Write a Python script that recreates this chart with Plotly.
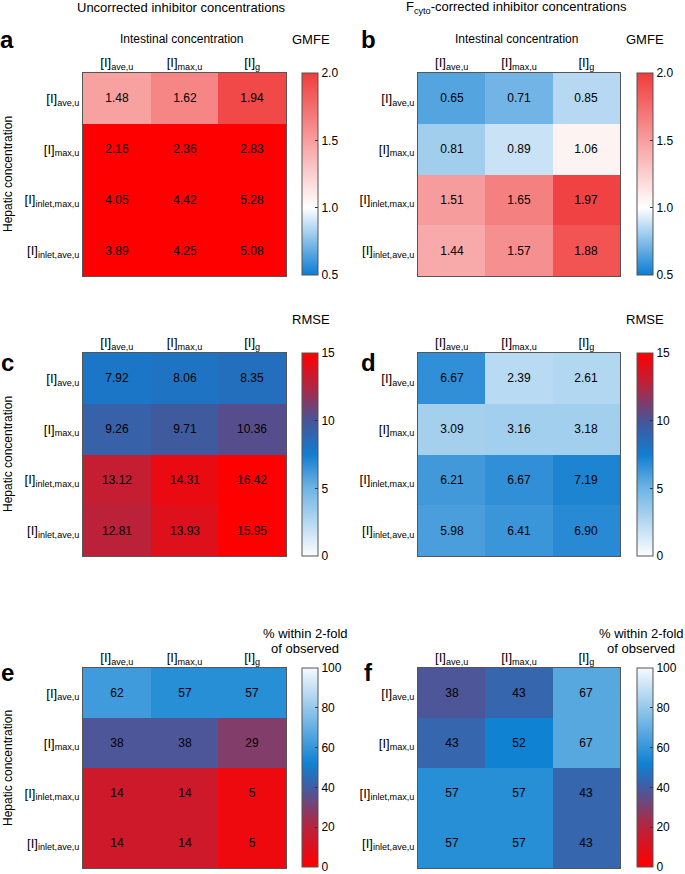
import numpy as np
import plotly.graph_objects as go

# ---------------- data ----------------
col_labels = ["[I]<sub>ave,u</sub>", "[I]<sub>max,u</sub>", "[I]<sub>g</sub>"]
row_labels = ["[I]<sub>ave,u</sub>", "[I]<sub>max,u</sub>",
              "[I]<sub>inlet,max,u</sub>", "[I]<sub>inlet,ave,u</sub>"]

gmfe_uncorrected = [[1.48, 1.62, 1.94],
                    [2.16, 2.36, 2.83],
                    [4.05, 4.42, 5.28],
                    [3.89, 4.25, 5.08]]
gmfe_corrected = [[0.65, 0.71, 0.85],
                  [0.81, 0.89, 1.06],
                  [1.51, 1.65, 1.97],
                  [1.44, 1.57, 1.88]]
rmse_uncorrected = [[7.92, 8.06, 8.35],
                    [9.26, 9.71, 10.36],
                    [13.12, 14.31, 16.42],
                    [12.81, 13.93, 15.95]]
rmse_corrected = [[6.67, 2.39, 2.61],
                  [3.09, 3.16, 3.18],
                  [6.21, 6.67, 7.19],
                  [5.98, 6.41, 6.90]]
pct_uncorrected = [[62, 57, 57],
                   [38, 38, 29],
                   [14, 14, 5],
                   [14, 14, 5]]
pct_corrected = [[38, 43, 67],
                 [43, 52, 67],
                 [57, 57, 43],
                 [57, 57, 43]]

gmfe_ticks = [0.5, 1.0, 1.5, 2.0]
rmse_ticks = [0, 5, 10, 15]
pct_ticks = [0, 20, 40, 60, 80, 100]

# ---------------- styles ----------------
FONT = "Liberation Sans, Arial, Helvetica, sans-serif"
W, H = 685, 874

gmfe_cs = [[0.0, "rgb(10,125,210)"], [1/3, "rgb(255,255,255)"],
           [1.0, "rgb(240,60,60)"]]
rmse_cs = [[0.0, "rgb(252,253,255)"], [5/15, "rgb(110,180,228)"],
           [7.5/15, "rgb(18,125,208)"], [10/15, "rgb(70,85,152)"],
           [12.5/15, "rgb(178,38,66)"], [1.0, "rgb(255,0,0)"]]
pct_cs = [[0.0, "rgb(255,0,0)"], [0.2, "rgb(185,35,60)"],
          [0.4, "rgb(65,92,162)"], [0.52, "rgb(15,130,210)"],
          [0.8, "rgb(150,200,235)"], [1.0, "rgb(245,250,255)"]]

def px_x(p):
    return min(max(p / W, 0.0), 1.0)

def px_y(p):
    return min(max(1 - p / H, 0.0), 1.0)

xdom_left = [px_x(83), px_x(286)]
xdom_right = [px_x(418), px_x(620)]
ydoms = [[px_y(276), px_y(73)], [px_y(556), px_y(353)], [px_y(868), px_y(668)]]
cb_centers = [(73 + 275) / 2, (353 + 556) / 2, (668 + 867) / 2]
cb_lens = [202, 203, 199]

panels = [
    ("a", gmfe_uncorrected, gmfe_cs, 0.5, 2.0, gmfe_ticks, "{:.2f}", ".1f", 0, 0),
    ("b", gmfe_corrected, gmfe_cs, 0.5, 2.0, gmfe_ticks, "{:.2f}", ".1f", 1, 0),
    ("c", rmse_uncorrected, rmse_cs, 0, 15, rmse_ticks, "{:.2f}", "d", 0, 1),
    ("d", rmse_corrected, rmse_cs, 0, 15, rmse_ticks, "{:.2f}", "d", 1, 1),
    ("e", pct_uncorrected, pct_cs, 0, 100, pct_ticks, "{:.0f}", "d", 0, 2),
    ("f", pct_corrected, pct_cs, 0, 100, pct_ticks, "{:.0f}", "d", 1, 2),
]

fig = go.Figure()
layout = {}
for i, (letter, z, cs, zmin, zmax, tv, fmt, tfmt, col, row) in enumerate(panels):
    n = i + 1
    xa = "x" if n == 1 else f"x{n}"
    ya = "y" if n == 1 else f"y{n}"
    z = np.array(z, dtype=float)
    txt = [[fmt.format(v) for v in r] for r in z]
    cb_x = px_x(302) if col == 0 else px_x(637)
    fig.add_trace(go.Heatmap(
        z=z, x=col_labels, y=row_labels, text=txt, texttemplate="%{text}",
        textfont=dict(size=12, color="black", family=FONT),
        colorscale=cs, zmin=zmin, zmax=zmax, xaxis=xa, yaxis=ya,
        hoverinfo="skip",
        colorbar=dict(x=cb_x, xanchor="left", y=px_y(cb_centers[row]),
                      yanchor="middle", len=cb_lens[row], lenmode="pixels",
                      thickness=16, thicknessmode="pixels", xpad=0, ypad=0,
                      outlinewidth=1, outlinecolor="#555",
                      tickvals=tv, tickformat=tfmt, ticks="inside",
                      ticklen=3, tickcolor="#333", ticklabeloverflow="allow",
                      tickfont=dict(size=12, color="black", family=FONT)),
    ))
    # saturated cells above the colour range (GMFE > 2)
    if zmax == 2.0:
        over = np.where(z > zmax, 1.0, np.nan)
        otxt = [[t if z[r][c] > zmax else "" for c, t in enumerate(rr)]
                for r, rr in enumerate(txt)]
        fig.add_trace(go.Heatmap(
            z=over, x=col_labels, y=row_labels, text=otxt, texttemplate="%{text}",
            textfont=dict(size=12, color="black", family=FONT),
            colorscale=[[0, "rgb(255,0,0)"], [1, "rgb(255,0,0)"]],
            showscale=False, xaxis=xa, yaxis=ya, hoverinfo="skip"))
    axkw = dict(showline=True, mirror=True, linecolor="#555", linewidth=1,
                ticks="", showgrid=False, zeroline=False, fixedrange=True,
                tickfont=dict(size=13, color="black", family=FONT))
    layout["xaxis" if n == 1 else f"xaxis{n}"] = dict(
        axkw, domain=xdom_left if col == 0 else xdom_right, side="top",
        anchor=ya, type="category")
    layout["yaxis" if n == 1 else f"yaxis{n}"] = dict(
        axkw, domain=ydoms[row], anchor=xa, autorange="reversed",
        type="category")

ann = []
def add_text(x, y, text, size=12, bold=False, angle=0, xanchor="center"):
    ann.append(dict(x=px_x(x), y=px_y(y), xref="paper", yref="paper",
                    text=f"<b>{text}</b>" if bold else text, showarrow=False,
                    textangle=angle, xanchor=xanchor, yanchor="middle",
                    font=dict(size=size, color="black", family=FONT)))

add_text(181, 7, "Uncorrected inhibitor concentrations", 13)
add_text(516, 7, "F<sub>cyto</sub>-corrected inhibitor concentrations", 13)
add_text(181, 39, "Intestinal concentration", 12)
add_text(516, 39, "Intestinal concentration", 12)
add_text(311, 40, "GMFE", 13)
add_text(645, 40, "GMFE", 13)
add_text(311, 320, "RMSE", 13)
add_text(645, 320, "RMSE", 13)
add_text(305, 633, "% within 2-fold", 13)
add_text(305, 648, "of observed", 13)
add_text(641, 633, "% within 2-fold", 13)
add_text(641, 648, "of observed", 13)
for y in [174, 454, 768]:
    add_text(8, y, "Hepatic concentration", 12, angle=-90)
for lx, ly, t in [(7, 40, "a"), (368, 40, "b"), (7, 362, "c"), (368, 362, "d"),
                  (7, 672, "e"), (368, 672, "f")]:
    add_text(lx, ly, t, 24, bold=True)

fig.update_layout(
    width=W, height=H, margin=dict(l=0, r=0, t=0, b=0),
    paper_bgcolor="white", plot_bgcolor="white", annotations=ann,
    font=dict(family=FONT, color="black"), **layout)

fig.write_html(
    "out.html",
    config={"displayModeBar": False},
    post_script="document.body.style.margin='0';"
                "document.documentElement.style.overflow='hidden';")
